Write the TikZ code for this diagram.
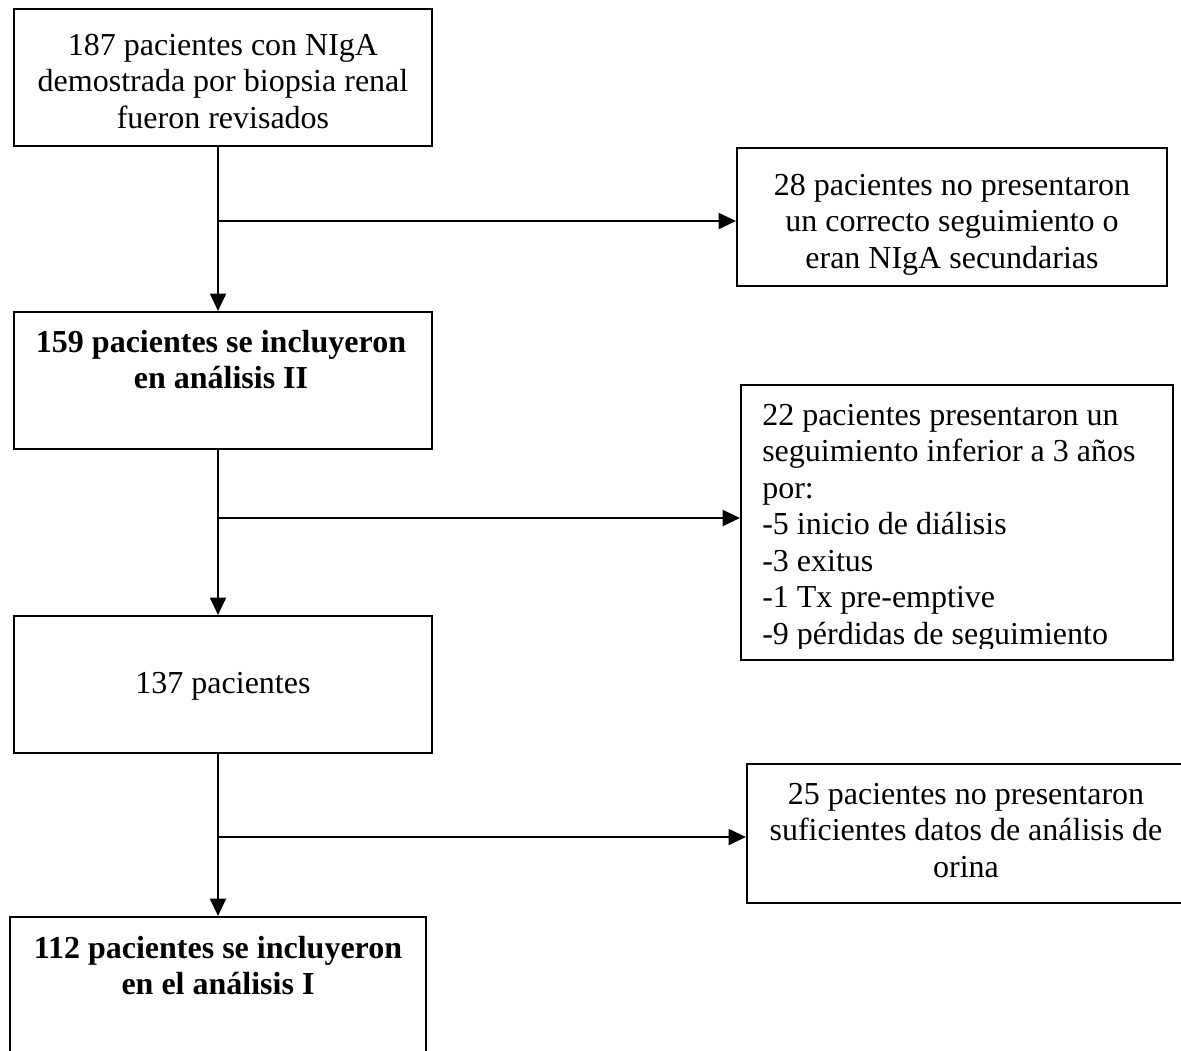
\documentclass[tikz,border=0pt]{standalone}
\usepackage{fontspec}
\setmainfont{Liberation Serif}
\usetikzlibrary{arrows.meta}
\tikzset{
  box/.style={draw, line width=1.6pt, rectangle, inner sep=0pt},
  txt/.style={inner sep=0pt, font=\fontsize{24}{27.4}\selectfont},
  arr/.style={line width=1.6pt, -{Triangle[length=13pt,width=12pt]}},
  ln/.style={line width=1.6pt}
}
\begin{document}
\begin{tikzpicture}[x=0.75pt,y=-0.75pt]
\clip (0,0) rectangle (1181,1050);
\fill[white] (0,0) rectangle (1181,1050);
% boxes
\node[box, minimum width=313.5pt, minimum height=102.75pt] (b1) at (223,77.5) {};
\node[box, minimum width=322.5pt, minimum height=103.5pt] (b28) at (952,217) {};
\node[box, minimum width=313.5pt, minimum height=102.75pt] (b2) at (223,380.5) {};
\node[box, minimum width=324pt, minimum height=206.25pt] (b22) at (957,522.5) {};
\node[box, minimum width=313.5pt, minimum height=102.75pt] (b3) at (223,684.5) {};
\node[box, minimum width=336pt, minimum height=104.25pt] (b25) at (971,833.5) {};
\node[box, minimum width=312pt, minimum height=114.75pt] (b4) at (218,993.5) {};
% texts
\node[txt, anchor=base] (t1) at (223,55) {\parbox[t]{420pt}{\centering 187 pacientes con NIgA\\demostrada por biopsia renal\\fueron revisados}};
\node[txt, anchor=base] (t28) at (952,195) {\parbox[t]{420pt}{\centering 28 pacientes no presentaron\\un correcto seguimiento o\\eran NIgA secundarias}};
\node[txt, anchor=base] (t2) at (221,352) {\parbox[t]{420pt}{\centering\bfseries 159 pacientes se incluyeron\\en análisis II}};
\begin{scope}
\clip (741,385) rectangle (1173,648);
\node[txt, anchor=base west] (t22) at (762,425) {\parbox[t]{420pt}{\raggedright 22 pacientes presentaron un\\seguimiento inferior a 3 años\\por:\\-5 inicio de diálisis\\-3 exitus\\-1 Tx pre-emptive\\-9 pérdidas de seguimiento}};
\end{scope}
\node[txt, anchor=base] (t3) at (223,693) {137 pacientes};
\node[txt, anchor=base] (t25) at (966,804) {\parbox[t]{420pt}{\centering 25 pacientes no presentaron\\suficientes datos de análisis de\\orina}};
\node[txt, anchor=base] (t4) at (218,958) {\parbox[t]{420pt}{\centering\bfseries 112 pacientes se incluyeron\\en el análisis I}};
% connectors
\coordinate (v) at (218,0);
\coordinate (j1) at (218,221);
\coordinate (j2) at (218,518);
\coordinate (j3) at (218,837);
\draw[arr] (b1.south -| v) -- (b2.north -| v);
\draw[arr] (j1) -- (j1 -| b28.west);
\draw[arr] (b2.south -| v) -- (b3.north -| v);
\draw[arr] (j2) -- (j2 -| b22.west);
\draw[arr] (b3.south -| v) -- (b4.north -| v);
\draw[arr] (j3) -- (j3 -| b25.west);
\end{tikzpicture}
\end{document}
